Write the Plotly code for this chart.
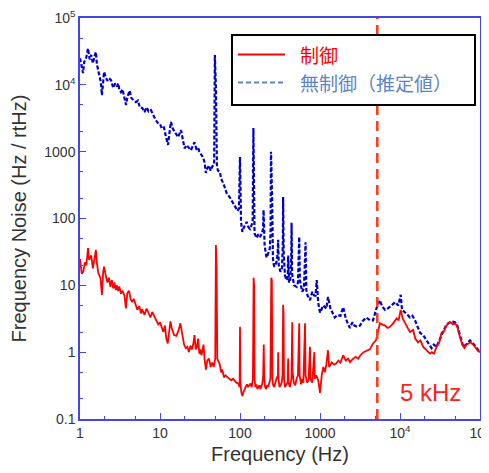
import plotly.graph_objects as go

# ---- data ----
freq_ctrl = [1.0, 1.05, 1.1, 1.15, 1.2, 1.26, 1.3, 1.38, 1.45, 1.52, 1.58, 1.62, 1.7, 1.8, 1.88, 1.95,
             2.0, 2.1, 2.2, 2.3, 2.4, 2.5, 2.6, 2.7, 2.8, 2.9, 3.0, 3.1, 3.25, 3.4, 3.6, 3.75, 3.9,
             4.1, 4.3, 4.5, 4.7, 5.0, 5.2, 5.5, 5.8, 6.0, 6.4, 6.8, 7.2, 7.6, 8.0, 8.5, 9.0, 9.5,
             10, 10.5, 11, 11.5, 12, 12.5, 13, 13.5, 14, 15, 16, 17, 18, 19, 20, 21, 22, 23, 24, 25,
             26, 27, 28, 29, 30, 31, 32, 33, 34, 35, 36, 37.5, 39, 41, 43, 45, 47, 49, 50, 51, 52,
             54, 56, 58, 60, 63, 66, 70, 74, 78, 82, 86, 90, 95, 99, 100, 101, 104, 107, 110, 114,
             118, 122, 126, 130, 135, 140, 145, 148, 150, 152, 156, 160, 165, 170, 175, 180, 185,
             190, 195, 198, 201, 206, 212, 218, 225, 232, 240, 246, 250, 254, 260, 268, 276, 285,
             298, 300, 303, 312, 322, 332, 340, 346, 350, 355, 365, 380, 395, 400, 405, 420, 440,
             450, 455, 470, 490, 510, 530, 550, 556, 580, 600, 620, 650, 660, 690, 720, 750, 760,
             800, 850, 860, 900, 950, 1000, 1050, 1100, 1150, 1200, 1260, 1300, 1400, 1500, 1600,
             1700, 1800, 1950, 2100, 2250, 2370, 2600, 2800, 3000, 3200, 3500, 3800, 4200, 4600,
             5000, 5300, 5600, 6000, 6500, 7000, 7500, 8200, 9100, 9600, 10200, 10800, 11500,
             12400, 13300, 14600, 15500, 16800, 18000, 19500, 21000, 22500, 23700, 25000, 26500,
             28700, 31000, 33000, 35000, 37500, 40000, 43000, 46000, 49000, 52000, 56000, 60000,
             64000, 68000, 72000, 76000, 82000, 88000, 94000, 100000]
noise_ctrl = [25, 15, 16, 22, 20, 36, 24, 28, 18, 26, 34, 22, 15, 13, 7.2, 16,
              19, 14, 11, 13, 9.5, 12, 9, 11, 8.5, 10, 8.2, 9.6, 7.5, 8.3, 7, 4.5, 7.6,
              8.3, 6.2, 5.6, 6.3, 5.0, 4.3, 4.9, 3.8, 4.4, 3.6, 4.5, 3.8, 3.3, 4.0, 3.4, 3.0, 2.6,
              2.8, 2.4, 2.0, 2.5, 1.6, 1.35, 2.2, 2.9, 2.3, 1.8, 1.75, 2.1, 2.7, 1.8, 1.3, 1.15, 1.2, 1.0, 1.25, 1.1,
              1.3, 1.8, 1.1, 1.2, 1.6, 0.95, 1.1, 0.9, 1.05, 1.3, 0.8, 0.55, 0.75, 0.8, 0.6, 0.7, 0.6, 0.8, 40, 18, 0.8,
              0.7, 0.65, 0.5, 0.55, 0.42, 0.45, 0.42, 0.4, 0.38, 0.4, 0.37, 0.35, 0.34, 0.3, 2.4, 0.35, 0.25, 0.22, 0.25, 0.28,
              0.3, 0.33, 0.3, 0.32, 0.34, 0.3, 0.4, 13, 10, 0.4, 0.3, 0.33, 0.28, 0.3, 0.32, 0.28, 0.3,
              0.34, 0.45, 1.3, 0.4, 0.3, 0.28, 0.32, 0.3, 0.35, 0.4, 13, 12, 0.4, 0.32, 0.3, 0.35, 0.4,
              0.45, 1.0, 0.4, 0.3, 0.33, 0.35, 0.45, 5.1, 4, 0.4, 0.3, 0.33, 0.36, 0.8, 0.35, 0.3, 0.4,
              2.8, 0.5, 0.35, 0.32, 0.4, 0.45, 2.7, 0.45, 0.33, 0.4, 0.35, 2.7, 0.45, 0.35, 0.38, 1.2, 0.4,
              0.35, 1.0, 0.4, 0.45, 0.38, 0.245, 0.45, 0.6, 0.5, 0.65, 1.07, 0.6, 0.7, 0.65, 0.68,
              0.75, 0.7, 0.9, 0.75, 0.8, 0.71, 0.8, 0.85, 0.8, 0.9, 1.0, 1.05, 1.1, 1.35,
              1.5, 2.0, 2.7, 2.6, 2.5, 2.3, 2.4, 2.7, 3.2, 3.0, 4.3, 3.2, 2.8,
              2.4, 2.0, 2.15, 1.6, 1.4, 1.5, 1.2, 1.1, 1.0, 0.95, 1.0, 0.95,
              1.2, 1.4, 1.95, 2.0, 2.4, 2.7, 2.8, 2.6, 2.7, 2.4, 1.7, 1.3,
              1.15, 1.3, 1.35, 1.4, 1.3, 1.15, 1.05, 1.0]

freq_unctrl = [1.0, 1.04, 1.09, 1.13, 1.2, 1.26, 1.32, 1.38, 1.45, 1.52, 1.58, 1.63, 1.68, 1.75, 1.82,
               1.88, 1.95, 2.0, 2.1, 2.2, 2.3, 2.44, 2.6, 2.75, 2.9, 3.0, 3.1, 3.25, 3.4, 3.6, 3.76,
               3.9, 4.17, 4.4, 4.7, 5.0, 5.3, 5.6, 6.0, 6.4, 6.8, 7.2, 7.7, 8.2, 8.8, 9.4, 10, 10.6,
               11.2, 11.9, 12.6, 13.2, 13.7, 14.5, 15.5, 16.8, 18.3, 19.3, 20.3, 21.5, 23, 24.4, 25.5,
               27, 28.5, 30, 31, 32.5, 34.4, 36, 37.5, 39, 41, 43, 45, 47.5, 48.5, 50, 51.5, 53, 56,
               58, 61, 64, 68, 72, 76, 82, 88, 93, 97, 100, 103, 107, 110, 115, 121, 127, 133, 140,
               144, 147, 152, 157, 161, 170, 178, 188, 194, 197, 203, 210, 215, 225, 235, 241, 244,
               252, 258, 265, 270, 285, 295, 300, 305, 320, 335, 343, 346, 352, 365, 380, 395, 400,
               410, 425, 438, 441, 448, 475, 510, 530, 548, 550, 560, 600, 630, 658, 660, 675, 700,
               750, 800, 850, 880, 910, 950, 1000, 1100, 1200, 1260, 1350, 1450, 1530, 1650, 1800,
               1950, 2100, 2250, 2370, 2550, 2700, 2900, 3160, 3400, 3800, 4200, 4600, 5100, 5600,
               6000, 6500, 7200, 8000, 8700, 9500, 10200, 10600, 11500, 12500, 13300, 14300, 15400,
               16500, 17800, 19500, 21500, 23000, 24800, 26500, 28700, 31000, 34700, 37500, 40000,
               44000, 48700, 52000, 56000, 62000, 67000, 75000, 82000, 90000, 100000]
noise_unctrl = [25000, 20000, 15000, 22000, 26000, 35000, 24000, 28000, 21000, 27000, 31000, 20000, 16600, 14000, 11000,
                7000, 14000, 15600, 13000, 11500, 12500, 11800, 9000, 10500, 9500, 10500, 8500, 7800, 8600, 6500, 5000,
                6500, 8200, 6300, 5800, 5500, 5800, 4600, 4500, 3900, 4600, 4000, 4200, 3500, 3000, 2700, 2600, 2200,
                2300, 1650, 1260, 2000, 2780, 2200, 1900, 1650, 2100, 1500, 1120, 1250, 1150, 1050, 1200,
                1380, 1100, 1150, 1000, 900, 830, 700, 480, 560, 620, 520, 600, 650, 28000, 9000, 600, 520, 500,
                400, 350, 300, 240, 220, 200, 170, 150, 130, 140, 830, 90, 63, 70, 80, 89, 75, 70, 80,
                90, 2250, 60, 55, 51, 58, 53, 60, 70, 134, 40, 30, 26, 30, 35, 60, 1000,
                200, 25, 20, 19, 22, 30, 48, 20, 16, 18, 40, 210, 30, 14, 12, 13, 28,
                11, 12, 30, 86, 15, 10, 9.5, 11, 30, 53, 12, 8, 9, 25, 44, 8.5, 7,
                6, 8, 7, 7, 12, 5.5, 3.9, 5, 4.5, 6.7, 4.5, 3.8, 3.3, 3.6, 3.5,
                4.7, 3.2, 2.6, 2.3, 2.8, 2.5, 2.4, 2.5, 2.9, 3.3, 3.0, 3.0, 4.6, 6.0,
                4.8, 4.3, 4.6, 5.2, 5.6, 5.0, 7.2, 4.3, 4.0, 3.6, 3.3, 3.5, 3.0,
                2.4, 1.95, 1.8, 1.5, 1.3, 1.15, 1.3, 1.2, 1.5, 2.1, 2.5, 2.7,
                2.9, 2.8, 2.5, 1.8, 1.2, 1.3, 1.5, 1.35, 1.15, 1.0]

x_tickvals = [1, 10, 100, 1000, 1e4, 1e5]
x_ticktext = ["1", "10", "100", "1000", "10<sup>4</sup>", "10<sup>5</sup>"]
y_tickvals = [0.1, 1, 10, 100, 1000, 1e4, 1e5]
y_ticktext = ["0.1", "1", "10", "100", "1000", "10<sup>4</sup>", "10<sup>5</sup>"]
legend_labels = ["制御", "無制御（推定値）"]
marker_freq = 5200
marker_label = "5 kHz"

AXIS_BLUE = "#4646e6"
TXT = "#333333"
RED = "#ff0000"
DATA_BLUE = "#0000cc"
LEG_BLUE = "#5b86c5"

fig = go.Figure()
fig.add_trace(go.Scatter(x=freq_unctrl, y=noise_unctrl, mode="lines",
                         line=dict(color=DATA_BLUE, width=2.2, dash="4px,2px"),
                         name=legend_labels[1]))
fig.add_trace(go.Scatter(x=freq_ctrl, y=noise_ctrl, mode="lines",
                         line=dict(color=RED, width=1.8),
                         name=legend_labels[0]))

# vertical 5 kHz marker
fig.add_shape(type="line", xref="x", yref="paper", x0=marker_freq, x1=marker_freq, y0=0, y1=1,
              line=dict(color="#ff3a10", width=2.5, dash="10px,6px"), layer="above")

# custom legend box
LEG_Y1, LEG_Y2 = 0.909, 0.839
fig.add_shape(type="rect", xref="paper", yref="paper", x0=0.38, x1=0.9875, y0=0.783, y1=0.9576,
              line=dict(color="black", width=2), fillcolor="white", layer="above")
fig.add_shape(type="line", xref="paper", yref="paper", x0=0.395, x1=0.5125, y0=LEG_Y1, y1=LEG_Y1,
              line=dict(color=RED, width=2), layer="above")
fig.add_shape(type="line", xref="paper", yref="paper", x0=0.395, x1=0.5125, y0=LEG_Y2, y1=LEG_Y2,
              line=dict(color=LEG_BLUE, width=2, dash="5px,3px"), layer="above")
fig.add_annotation(xref="paper", yref="paper", x=0.545, y=LEG_Y1, text=legend_labels[0],
                   showarrow=False, xanchor="left", yanchor="middle",
                   font=dict(family="Noto Sans CJK JP", size=19, color=RED))
fig.add_annotation(xref="paper", yref="paper", x=0.545, y=LEG_Y2, text=legend_labels[1],
                   showarrow=False, xanchor="left", yanchor="middle",
                   font=dict(family="Noto Sans CJK JP", size=19, color=LEG_BLUE))
fig.add_annotation(xref="paper", yref="paper", x=0.875, y=0.065, text=marker_label,
                   showarrow=False, xanchor="center", yanchor="middle",
                   font=dict(family="Liberation Sans, Arial", size=24, color="#ff2020"))

axis_common = dict(type="log", showline=True, linecolor=AXIS_BLUE, linewidth=1.5, mirror=True,
                   ticks="inside", ticklen=6, tickcolor=AXIS_BLUE, tickwidth=1.2,
                   showgrid=False, zeroline=False, automargin=False, ticklabeloverflow="allow",
                   tickfont=dict(family="Liberation Sans, Arial", size=14, color=TXT),
                   minor=dict(ticks="inside", ticklen=3.5, tickcolor=AXIS_BLUE, tickwidth=1, showgrid=False))

# page body has an 8px margin: compensate so the plot area lands at x 80-480, y 18-419
fig.update_layout(
    width=481, height=457,
    margin=dict(l=72, r=9, t=10, b=46),
    paper_bgcolor="white", plot_bgcolor="white",
    showlegend=False,
    xaxis=dict(range=[0, 5], tickvals=x_tickvals, ticktext=x_ticktext,
               title=dict(text="Frequency (Hz)", standoff=10,
                          font=dict(family="Liberation Sans, Arial", size=20, color=TXT)),
               **axis_common),
    yaxis=dict(range=[-1, 5], tickvals=y_tickvals, ticktext=y_ticktext,
               title=dict(text="Frequency Noise (Hz / rtHz)", standoff=12,
                          font=dict(family="Liberation Sans, Arial", size=20, color=TXT)),
               **axis_common),
)

fig.write_html("out.html")
